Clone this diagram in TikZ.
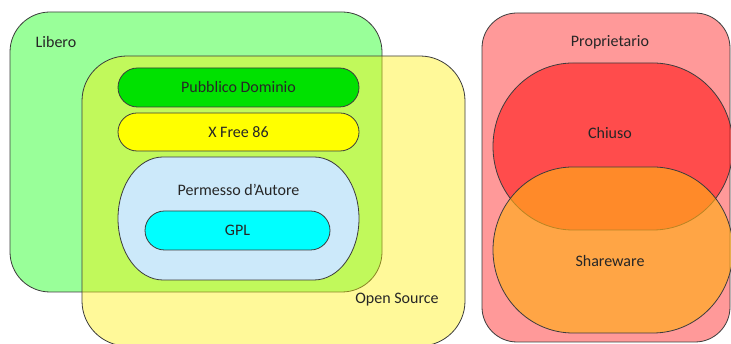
\documentclass[tikz,border=0pt]{standalone}
\usepackage{fontspec}
\setmainfont{Carlito}
\definecolor{pdgreen}{RGB}{0,225,0}
\definecolor{xfyellow}{RGB}{255,255,0}
\definecolor{permblue}{RGB}{204,233,250}
\definecolor{gplcyan}{RGB}{0,255,255}
\definecolor{sworange}{RGB}{255,173,22}
\definecolor{edge}{RGB}{60,60,60}
\tikzset{
  set/.style={draw=edge, line width=0.8pt, rectangle, inner sep=0pt, outer sep=0pt},
  lbl/.style={font=\fontsize{16}{19}\selectfont, text=black!85, inner sep=0pt},
}
% stadium with elliptic ends: #2=left x, #3=bottom y, #4=right x, #5=top y, #6=end x-radius
\newcommand{\ellstadium}[6][]{%
  \pgfmathsetmacro{\sry}{(#5-#3)/2}%
  \path[#1] (#2+#6,#5) -- (#4-#6,#5)
    arc[start angle=90, end angle=-90, x radius=#6, y radius=\sry]
    -- (#2+#6,#3)
    arc[start angle=270, end angle=90, x radius=#6, y radius=\sry] -- cycle;}
\begin{document}
\begin{tikzpicture}[x=1pt,y=1pt]
\useasboundingbox (0,0) rectangle (731,344);
\fill[white] (0,0) rectangle (731,344);

% free and open source sets
\node[set, fill=green, fill opacity=0.4, draw opacity=1, rounded corners=40pt,
      minimum width=372pt, minimum height=280pt] (libero) at (196,192) {};
\node[set, fill=yellow, fill opacity=0.4, draw opacity=1, rounded corners=45pt,
      minimum width=383pt, minimum height=290pt] (opensrc) at (273.5,143) {};
\node[lbl] (liberolbl) at (56,302) {Libero};
\node[lbl] (opensrclbl) at (397,44) {Open Source};

% licences inside the intersection
\node[set, fill=pdgreen, rounded corners=19.5pt, minimum width=241pt, minimum height=39pt]
  (pd) at (238.5,256.5) {};
\node[lbl] (pdlbl) at (pd) {Pubblico Dominio};
\node[set, fill=xfyellow, rounded corners=19pt, minimum width=241pt, minimum height=38pt]
  (xf) at (238.5,212) {};
\node[lbl] (xflbl) at (xf) {X Free 86};
\ellstadium[draw=edge, line width=0.8pt, fill=permblue]{118}{64}{359}{187}{45}
\node[lbl] (permlbl) at (238.5,154) {Permesso d’Autore};
\node[set, fill=gplcyan, rounded corners=19.5pt, minimum width=185pt, minimum height=39pt]
  (gpl) at (237.5,113.5) {};
\node[lbl] (gpllbl) at (gpl) {GPL};

% proprietary set
\node[set, fill=red, fill opacity=0.4, draw opacity=1, rounded corners=35pt,
      minimum width=248pt, minimum height=329pt] (prop) at (606,166.5) {};
\node[lbl] (proplbl) at (610,302) {Proprietario};
\ellstadium[draw=edge, line width=0.8pt, fill=red, fill opacity=0.5, draw opacity=1]{493}{114}{733}{281}{80}
\ellstadium[draw=edge, line width=0.8pt, fill=sworange, fill opacity=0.64, draw opacity=1]{493}{11}{733}{177}{80}
\node[lbl] (chiusolbl) at (610,211) {Chiuso};
\node[lbl] (swlbl) at (610,83) {Shareware};
\end{tikzpicture}
\end{document}
